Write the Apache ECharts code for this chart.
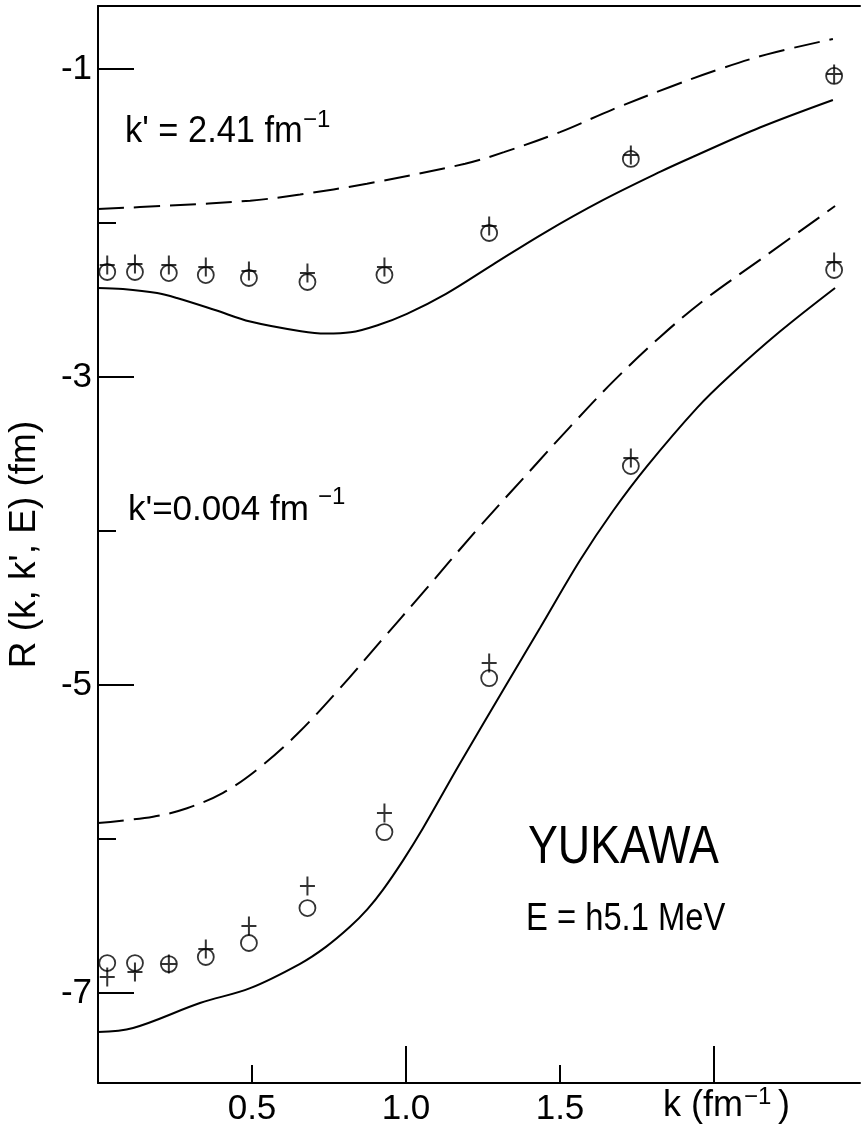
<!DOCTYPE html>
<html>
<head>
<meta charset="utf-8">
<script src="https://cdn.jsdelivr.net/npm/echarts@6/dist/echarts.min.js"></script>
<style>
html,body{margin:0;padding:0;background:#fff;}
#chart{width:861px;height:1126px;}
</style>
</head>
<body>
<div id="chart"></div>
<script>
// ---- data ----
const kPoints = [0.03, 0.12, 0.23, 0.35, 0.49, 0.68, 0.93, 1.27, 1.73, 2.39];
// k' = 2.41 fm^-1
const upperCircle = [-2.318, -2.318, -2.325, -2.338, -2.357, -2.383, -2.338, -2.065, -1.584, -1.045];
const upperPlus   = [-2.273, -2.266, -2.273, -2.286, -2.312, -2.325, -2.286, -2.019, -1.558, -1.032];
// k' = 0.004 fm^-1
const lowerCircle = [-6.805, -6.805, -6.812, -6.766, -6.675, -6.448, -5.955, -4.955, -3.578, -2.305];
const lowerPlus   = [-6.896, -6.864, -6.812, -6.714, -6.565, -6.305, -5.831, -4.857, -3.526, -2.253];

const upperDashK = [0, 0.224, 0.494, 0.656, 0.873, 1.192, 1.318, 1.500, 1.672, 1.857, 2.010, 2.172, 2.386];
const upperDashR = [-1.909, -1.888, -1.855, -1.815, -1.745, -1.615, -1.540, -1.410, -1.262, -1.117, -1.006, -0.905, -0.805];

const upperSolidK = [0, 0.081, 0.192, 0.256, 0.380, 0.494, 0.659, 0.740, 0.820, 0.910, 1.003, 1.130, 1.282, 1.448, 1.636, 1.828, 1.932, 2.149, 2.386];
const upperSolidR = [-2.422, -2.429, -2.455, -2.487, -2.565, -2.640, -2.703, -2.718, -2.710, -2.662, -2.590, -2.460, -2.270, -2.065, -1.855, -1.665, -1.570, -1.380, -1.201];

const lowerDashK = [0, 0.179, 0.289, 0.406, 0.516, 0.646, 0.786, 0.916, 1.055, 1.231, 1.425, 1.532, 1.672, 1.825, 1.968, 2.156, 2.393];
const lowerDashR = [-5.896, -5.855, -5.800, -5.700, -5.550, -5.320, -5.020, -4.720, -4.400, -3.990, -3.560, -3.325, -3.030, -2.740, -2.500, -2.230, -1.890];

const lowerSolidK = [0, 0.114, 0.331, 0.494, 0.656, 0.740, 0.818, 0.875, 0.925, 0.990, 1.055, 1.175, 1.328, 1.435, 1.565, 1.672, 1.782, 1.945, 2.052, 2.214, 2.393];
const lowerSolidR = [-7.253, -7.227, -7.065, -6.968, -6.810, -6.700, -6.570, -6.455, -6.330, -6.140, -5.930, -5.510, -4.990, -4.630, -4.190, -3.870, -3.580, -3.200, -2.990, -2.705, -2.422];

const yMajorTicks = [-1, -3, -5, -7];
const yMinorTicks = [-2, -4, -6];
const xLabelTicks = [0.5, 1.0, 1.5];
const xMajorTicks = [1.0, 2.0];
const xMinorTicks = [0.5, 1.5];

// ---- build ----
const zip = (a, b) => a.map((v, i) => [v, b[i]]);
const FONT = 'Liberation Sans';
const PLUS = 'path://M6.5,0H8.5V19H6.5Z M0,8.5H15V10.5H0Z';

const X_MIN = 0, X_MAX = 2.474, Y_MIN = -7.584, Y_MAX = -0.591;

function lineSeries(k, r, dashed) {
  return {
    type: 'line', data: zip(k, r), symbol: 'none', smooth: 0.35,
    lineStyle: { color: '#000', width: 2, type: dashed ? [26, 10] : 'solid' },
    silent: true, z: 2
  };
}
function circleSeries(vals) {
  return {
    type: 'scatter', data: zip(kPoints, vals), symbol: 'circle', symbolSize: 16,
    itemStyle: { color: 'rgba(0,0,0,0)', borderColor: '#000', borderWidth: 1.8 }, z: 3
  };
}
function plusSeries(vals) {
  return {
    type: 'scatter', data: zip(kPoints, vals), symbol: PLUS, symbolSize: [15, 19],
    itemStyle: { color: '#000' }, z: 4
  };
}

const chart = echarts.init(document.getElementById('chart'), null, { renderer: 'canvas' });
const txt = (x, y, text, size, extra) => Object.assign({
  type: 'text', x: x, y: y, z: 10,
  style: { text: text, fontSize: size, fontFamily: FONT, fill: '#000', align: 'left', verticalAlign: 'middle' }
}, extra || {});

chart.setOption({
  backgroundColor: '#fff',
  animation: false,
  grid: { left: 98, right: 1, top: 6, bottom: 43, containLabel: false, outerBoundsMode: 'none' },
  xAxis: [
    {
      type: 'value', position: 'bottom', min: X_MIN, max: X_MAX,
      axisLine: { show: true, onZero: false, lineStyle: { color: '#000', width: 2 } },
      axisTick: { show: true, inside: true, length: 37, customValues: xMajorTicks, lineStyle: { color: '#000', width: 2 } },
      axisLabel: { show: true, customValues: xLabelTicks, formatter: v => v.toFixed(1), margin: 9,
        fontSize: 35, fontFamily: FONT, color: '#000' },
      splitLine: { show: false }
    },
    {
      type: 'value', position: 'bottom', min: X_MIN, max: X_MAX,
      axisLine: { show: false, onZero: false },
      axisTick: { show: true, inside: true, length: 18, customValues: xMinorTicks, lineStyle: { color: '#000', width: 2 } },
      axisLabel: { show: false }, splitLine: { show: false }
    },
    {
      type: 'value', position: 'top', min: X_MIN, max: X_MAX,
      axisLine: { show: true, onZero: false, lineStyle: { color: '#000', width: 2 } },
      axisTick: { show: false }, axisLabel: { show: false }, splitLine: { show: false }
    }
  ],
  yAxis: [
    {
      type: 'value', position: 'left', min: Y_MIN, max: Y_MAX,
      name: "R (k, k', E) (fm)", nameLocation: 'middle', nameGap: 55, nameRotate: 90,
      nameTextStyle: { fontSize: 37, fontFamily: FONT, color: '#000' },
      axisLine: { show: true, onZero: false, lineStyle: { color: '#000', width: 2 } },
      axisTick: { show: true, inside: true, length: 36, customValues: yMajorTicks, lineStyle: { color: '#000', width: 2 } },
      axisLabel: { show: true, customValues: yMajorTicks, formatter: v => String(v), margin: 6,
        fontSize: 35, fontFamily: FONT, color: '#000' },
      splitLine: { show: false }
    },
    {
      type: 'value', position: 'left', min: Y_MIN, max: Y_MAX,
      axisLine: { show: false, onZero: false },
      axisTick: { show: true, inside: true, length: 18, customValues: yMinorTicks, lineStyle: { color: '#000', width: 2 } },
      axisLabel: { show: false }, splitLine: { show: false }
    }
  ],
  series: [
    lineSeries(upperDashK, upperDashR, true),
    lineSeries(upperSolidK, upperSolidR, false),
    lineSeries(lowerDashK, lowerDashR, true),
    lineSeries(lowerSolidK, lowerSolidR, false),
    circleSeries(upperCircle),
    plusSeries(upperPlus),
    circleSeries(lowerCircle),
    plusSeries(lowerPlus)
  ],
  graphic: [
    txt(125, 132, "k' = 2.41 fm", 37, { scaleX: 0.93 }),
    txt(303, 120, '\u22121', 24),
    txt(128, 510, "k'=0.004 fm", 35),
    txt(318, 497, '\u22121', 24),
    txt(528, 848, 'YUKAWA', 53, { scaleX: 0.845 }),
    txt(526, 919, 'E = h5.1 MeV', 39, { scaleX: 0.84 }),
    txt(663, 1106, 'k (fm', 36),
    txt(744, 1097, '\u22121', 24),
    txt(778, 1106, ')', 36)
  ]
});
</script>
</body>
</html>
